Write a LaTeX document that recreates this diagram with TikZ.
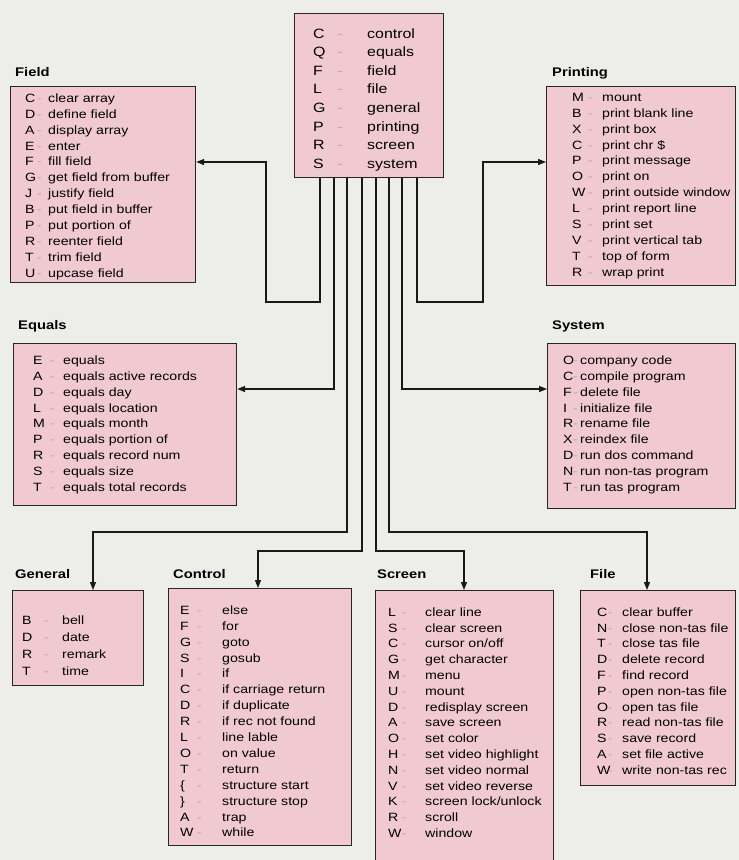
\documentclass[tikz,border=0pt]{standalone}
\usepackage{fontspec}
\setmainfont{Liberation Sans}[FakeStretch=1.18]
\usetikzlibrary{arrows.meta}
\definecolor{paper}{RGB}{237,237,234}
\definecolor{boxpink}{RGB}{240,202,208}
\definecolor{dashc}{RGB}{200,160,170}
\newcommand\dsh{\textcolor{dashc}{-}}
\tikzset{
 box/.style={draw=black!85, line width=1.2pt, fill=boxpink, anchor=north west, inner sep=0pt},
 title/.style={anchor=base west, inner sep=0pt, font=\bfseries\fontsize{12.5}{15}\selectfont},
 list/.style={anchor=base west, inner sep=0pt, font=\fontsize{12}{15.9}\selectfont},
 conn/.style={line width=1.3pt, draw=black!90, -{Triangle[length=8pt,width=6pt]}},
}
\begin{document}
\begin{tikzpicture}[x=1pt,y=-1pt]
\useasboundingbox (0,0) rectangle (739,860);
\fill[paper] (0,0) rectangle (739,860);
\clip (0,0) rectangle (739,860);

% central box
\node[box, minimum width=149pt, minimum height=164pt] (ctr) at (294,13) {};
\node[list, font=\fontsize{13.5}{18.6}\selectfont] (ctrlist) at (313,38) {\begin{tabular}[t]{@{}p{24pt}@{}p{30pt}@{}l@{}}
C&\dsh&control\\ Q&\dsh&equals\\ F&\dsh&field\\ L&\dsh&file\\ G&\dsh&general\\ P&\dsh&printing\\ R&\dsh&screen\\ S&\dsh&system
\end{tabular}};

% Field
\node[title] (fieldt) at (15,76) {Field};
\node[box, minimum width=185pt, minimum height=196pt] (field) at (10,86) {};
\node[list] (fieldlist) at (25,102.3) {\begin{tabular}[t]{@{}p{12pt}@{}p{11pt}@{}l@{}}
C&\dsh&clear array\\ D&\dsh&define field\\ A&\dsh&display array\\ E&\dsh&enter\\ F&\dsh&fill field\\ G&\dsh&get field from buffer\\ J&\dsh&justify field\\ B&\dsh&put field in buffer\\ P&\dsh&put portion of\\ R&\dsh&reenter field\\ T&\dsh&trim field\\ U&\dsh&upcase field
\end{tabular}};

% Printing
\node[title] (printt) at (552,76) {Printing};
\node[box, minimum width=189pt, minimum height=199pt] (printing) at (546,86) {};
\node[list] (printlist) at (572,101.3) {\begin{tabular}[t]{@{}p{16pt}@{}p{14pt}@{}l@{}}
M&\dsh&mount\\ B&\dsh&print blank line\\ X&\dsh&print box\\ C&\dsh&print chr \$\\ P&\dsh&print message\\ O&\dsh&print on\\ W&\dsh&print outside window\\ L&\dsh&print report line\\ S&\dsh&print set\\ V&\dsh&print vertical tab\\ T&\dsh&top of form\\ R&\dsh&wrap print
\end{tabular}};

% Equals
\node[title] (equalst) at (18,329.5) {Equals};
\node[box, minimum width=223pt, minimum height=162pt] (equals) at (13,343) {};
\node[list] (equalslist) at (33,364.3) {\begin{tabular}[t]{@{}p{17pt}@{}p{13pt}@{}l@{}}
E&\dsh&equals\\ A&\dsh&equals active records\\ D&\dsh&equals day\\ L&\dsh&equals location\\ M&\dsh&equals month\\ P&\dsh&equals portion of\\ R&\dsh&equals record num\\ S&\dsh&equals size\\ T&\dsh&equals total records
\end{tabular}};

% System
\node[title] (systemt) at (552,329.5) {System};
\node[box, minimum width=188pt, minimum height=165pt] (system) at (547,343) {};
\node[list] (systemlist) at (563,364.3) {\begin{tabular}[t]{@{}p{10pt}@{}p{7pt}@{}l@{}}
O&\dsh&company code\\ C&\dsh&compile program\\ F&\dsh&delete file\\ I&\dsh&initialize file\\ R&\dsh&rename file\\ X&\dsh&reindex file\\ D&\dsh&run dos command\\ N&\dsh&run non-tas program\\ T&\dsh&run tas program
\end{tabular}};

% General
\node[title] (generalt) at (15,578) {General};
\node[box, minimum width=131pt, minimum height=95pt] (general) at (12,590) {};
\node[list, font=\fontsize{12}{17}\selectfont] (generallist) at (22,624.3) {\begin{tabular}[t]{@{}p{22pt}@{}p{18pt}@{}l@{}}
B&\dsh&bell\\ D&\dsh&date\\ R&\dsh&remark\\ T&\dsh&time
\end{tabular}};

% Control
\node[title] (controlt) at (173,578) {Control};
\node[box, minimum width=183pt, minimum height=257pt] (control) at (168,588) {};
\node[list] (controllist) at (180,614.3) {\begin{tabular}[t]{@{}p{17pt}@{}p{25pt}@{}l@{}}
E&\dsh&else\\ F&\dsh&for\\ G&\dsh&goto\\ S&\dsh&gosub\\ I&\dsh&if\\ C&\dsh&if carriage return\\ D&\dsh&if duplicate\\ R&\dsh&if rec not found\\ L&\dsh&line lable\\ O&\dsh&on value\\ T&\dsh&return\\ \{&\dsh&structure start\\ \}&\dsh&structure stop\\ A&\dsh&trap\\ W&\dsh&while
\end{tabular}};

% Screen
\node[title] (screent) at (377,578) {Screen};
\node[box, minimum width=178pt, minimum height=280pt] (screen) at (375,590) {};
\node[list, font=\fontsize{12}{15.8}\selectfont] (screenlist) at (388,616.3) {\begin{tabular}[t]{@{}p{14pt}@{}p{23pt}@{}l@{}}
L&\dsh&clear line\\ S&\dsh&clear screen\\ C&\dsh&cursor on/off\\ G&\dsh&get character\\ M&\dsh&menu\\ U&\dsh&mount\\ D&\dsh&redisplay screen\\ A&\dsh&save screen\\ O&\dsh&set color\\ H&\dsh&set video highlight\\ N&\dsh&set video normal\\ V&\dsh&set video reverse\\ K&\dsh&screen lock/unlock\\ R&\dsh&scroll\\ W&\dsh&window
\end{tabular}};

% File
\node[title] (filet) at (590,578) {File};
\node[box, minimum width=155pt, minimum height=195pt] (file) at (580,590) {};
\node[list, font=\fontsize{12}{15.8}\selectfont] (filelist) at (597,616.3) {\begin{tabular}[t]{@{}p{11pt}@{}p{14pt}@{}l@{}}
C&\dsh&clear buffer\\ N&\dsh&close non-tas file\\ T&\dsh&close tas file\\ D&\dsh&delete record\\ F&\dsh&find record\\ P&\dsh&open non-tas file\\ O&\dsh&open tas file\\ R&\dsh&read non-tas file\\ S&\dsh&save record\\ A&\dsh&set file active\\ W&\dsh&write non-tas rec
\end{tabular}};

% connectors
\draw[conn] ([xshift=26pt]ctr.south west) |- (266,302) |- (field.east |- 0,162);
\draw[conn] ([xshift=40pt]ctr.south west) |- (equals.east |- 0,389);
\draw[conn] ([xshift=53pt]ctr.south west) |- (93,532) -- (general.north -| 93,0);
\draw[conn] ([xshift=68pt]ctr.south west) |- (258,551) -- (control.north -| 258,0);
\draw[conn] ([xshift=82pt]ctr.south west) |- (464,551) -- (screen.north -| 464,0);
\draw[conn] ([xshift=95pt]ctr.south west) |- (647,532) -- (file.north -| 647,0);
\draw[conn] ([xshift=108pt]ctr.south west) |- (system.west |- 0,389);
\draw[conn] ([xshift=123pt]ctr.south west) |- (483,302) |- (printing.west |- 0,162);
\end{tikzpicture}
\end{document}
